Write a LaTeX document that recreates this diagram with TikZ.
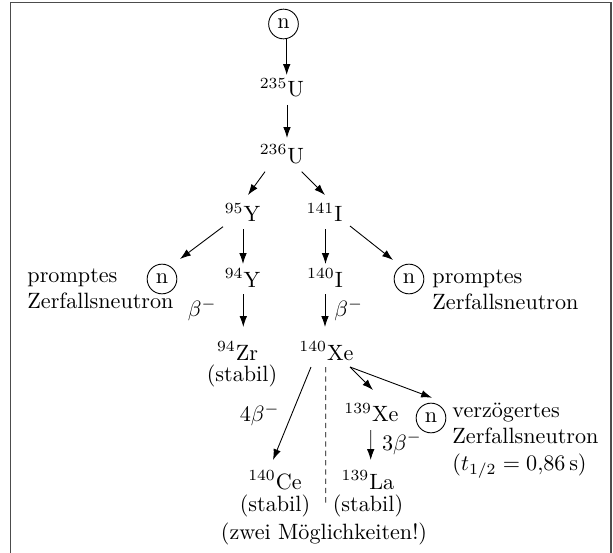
\documentclass[tikz,border=0pt]{standalone}
\usepackage{fontspec}
\usetikzlibrary{arrows.meta}
\begin{document}
\begin{tikzpicture}[x=0.4515pt,y=-0.4515pt,
  nuc/.style={inner sep=0pt, anchor=base},
  neutron/.style={draw, circle, line width=0.4pt, inner sep=0pt, minimum size=13.4pt},
  lbl/.style={inner sep=0pt},
  arr/.style={-{Latex[length=4.9pt,width=3.4pt]}, line width=0.4pt},
  boxline/.style={draw=black!70, line width=0.6pt}
]
\useasboundingbox (0,0) rectangle (613,553);
% outer frame, open at the bottom
\draw[boxline] (10.5,553) -- (10.5,2.5) -- (611,2.5) -- (611,553);

% incoming neutron and compound nucleus
\node[neutron] (n0) at (283.5,24) {n};
\node[nuc] (u235) at (282,97) {$^{235}$U};
\node[nuc] (u236) at (282,163) {$^{236}$U};

% fission fragments
\node[nuc] (y95) at (242.5,222) {$^{95}$Y};
\node[nuc] (i141) at (324.5,222) {$^{141}$I};
\node[nuc] (y94) at (242.5,287) {$^{94}$Y};
\node[nuc] (i140) at (325,287) {$^{140}$I};

% prompt neutrons
\node[neutron] (nL) at (162,279) {n};
\node[neutron] (nR) at (409,279) {n};
\node[lbl, anchor=base west] (pL) at (27,282)
  {\begin{tabular}[t]{@{}l@{}}promptes\\Zerfallsneutron\end{tabular}};
\node[lbl, anchor=base west] (pR) at (432,283)
  {\begin{tabular}[t]{@{}l@{}}promptes\\Zerfallsneutron\end{tabular}};

% beta decay products
\node[nuc] (zr94) at (237.5,360) {$^{94}$Zr};
\node[nuc] (st1) at (242,381.5) {(stabil)};
\node[nuc] (xe140) at (326.5,360) {$^{140}$Xe};
\node[nuc] (ce140) at (275,489) {$^{140}$Ce};
\node[nuc] (st2) at (275,511) {(stabil)};
\node[nuc] (xe139) at (371.5,421.7) {$^{139}$Xe};
\node[nuc] (la139) at (368,489) {$^{139}$La};
\node[nuc] (st3) at (368,511) {(stabil)};

% delayed neutron
\node[neutron] (nD) at (431,418) {n};
\node[lbl, anchor=base west] (vz) at (452,417)
  {\begin{tabular}[t]{@{}l@{}}verzögertes\\Zerfallsneutron\\($t_{1/2}=0{,}86\,$s)\end{tabular}};

\node[nuc] (zwei) at (324,539) {(zwei Möglichkeiten!)};

% decay labels
\node[lbl, anchor=base east] (b1) at (217,316.7) {$\beta^-$};
\node[lbl, anchor=base west] (b2) at (334,316.7) {$\beta^-$};
\node[lbl, anchor=base east] (b3) at (280,421.7) {$4\beta^-$};
\node[lbl, anchor=base west] (b4) at (381.7,450) {$3\beta^-$};

% connectors
\draw[arr] ([shift={(3.2,0)}]n0.south) -- ([shift={(4.7,-22)}]u235.base);
\draw[arr] ([shift={(5,8)}]u235.base) -- ([shift={(5,-25)}]u236.base);
\draw[arr] ([shift={(-17,8.7)}]u236.base) -- ([shift={(5.5,-27)}]y95.base);
\draw[arr] ([shift={(19.7,8.7)}]u236.base) -- ([shift={(0.5,-27)}]i141.base);
\draw[arr] ([shift={(-19.5,4.7)}]y95.base) -- ([shift={(18,-20)}]nL.center);
\draw[arr] ([shift={(25.5,4)}]i141.base) -- ([shift={(-16,-19)}]nR.center);
\draw[arr] ([shift={(0.5,7)}]y95.base) -- ([shift={(0.5,-23)}]y94.base);
\draw[arr] ([shift={(1,7)}]i141.base) -- ([shift={(0.5,-23)}]i140.base);
\draw[arr] ([shift={(0.8,7)}]y94.base) -- ([shift={(5.8,-33)}]zr94.base);
\draw[arr] ([shift={(0,7)}]i140.base) -- ([shift={(-1.5,-33)}]xe140.base);
\draw[arr] ([shift={(-15.5,7)}]xe140.base) -- ([shift={(-2,-29)}]ce140.base);
\draw[arr] ([shift={(23.5,7)}]xe140.base) -- ([shift={(1.5,-31.7)}]xe139.base);
\draw[arr] ([shift={(23.5,7)}]xe140.base) -- ([shift={(1,-5)}]nD.north);
\draw[arr] ([shift={(-0.8,8.3)}]xe139.base) -- ([shift={(2.7,-29)}]la139.base);
\draw[line width=0.4pt, dash pattern=on 2.4pt off 1.8pt] ([shift={(-0.8,7)}]xe140.base) -- ([shift={(1.7,-34)}]zwei.base);
\end{tikzpicture}
\end{document}
